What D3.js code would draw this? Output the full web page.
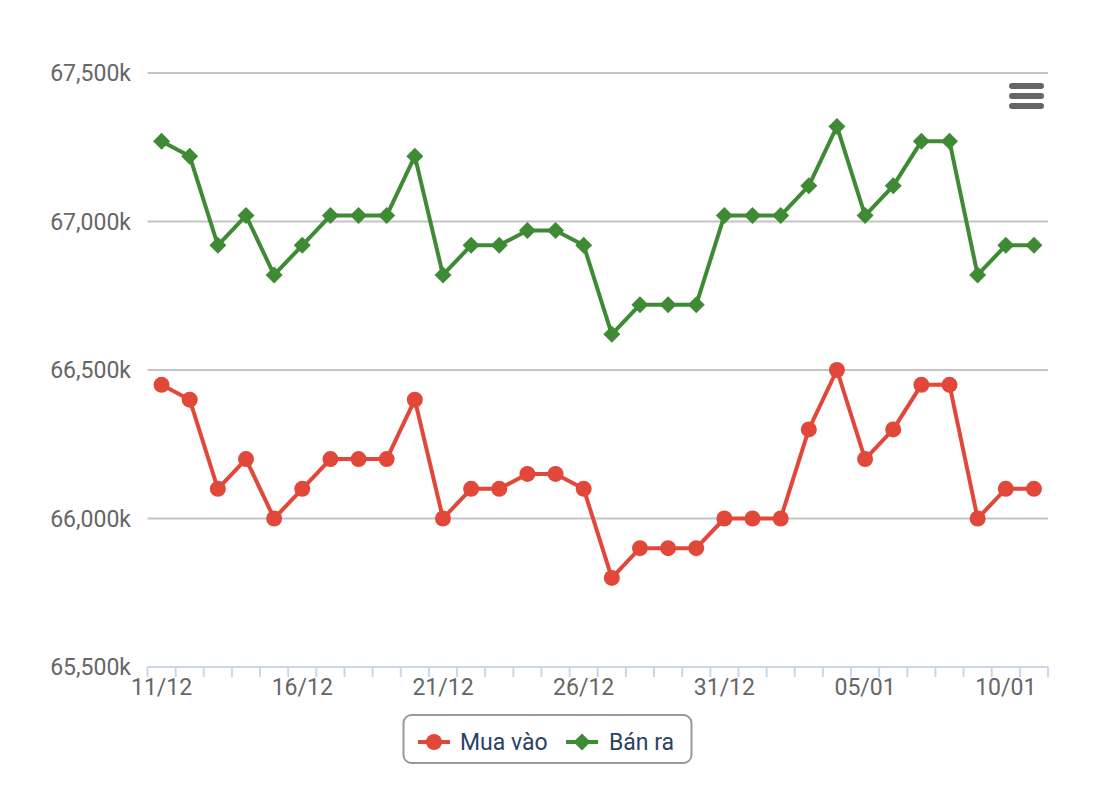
<!DOCTYPE html>
<html>
<head>
<meta charset="utf-8">
<script src="https://cdn.jsdelivr.net/npm/d3@7/dist/d3.min.js"></script>
<style>
  html, body { margin: 0; padding: 0; background: #fff; }
  svg { display: block; font-family: Roboto, "Noto Sans", sans-serif; }
</style>
</head>
<body>
<svg id="chart" width="1100" height="804"></svg>
<script>
const dates = ["11/12","12/12","13/12","14/12","15/12","16/12","17/12","18/12","19/12","20/12",
  "21/12","22/12","23/12","24/12","25/12","26/12","27/12","28/12","29/12","30/12","31/12",
  "01/01","02/01","03/01","04/01","05/01","06/01","07/01","08/01","09/01","10/01","11/01"];
const tickLabels = ["11/12","16/12","21/12","26/12","31/12","05/01","10/01"];
const muaVao = [66450,66400,66100,66200,66000,66100,66200,66200,66200,66400,
  66000,66100,66100,66150,66150,66100,65800,65900,65900,65900,66000,
  66000,66000,66300,66500,66200,66300,66450,66450,66000,66100,66100];
const banRa = [67270,67220,66920,67020,66820,66920,67020,67020,67020,67220,
  66820,66920,66920,66970,66970,66920,66620,66720,66720,66720,67020,
  67020,67020,67120,67320,67020,67120,67270,67270,66820,66920,66920];
const yTicks = [65500,66000,66500,67000,67500];
const seriesNames = ["Mua vào","Bán ra"];
const colors = ["#e2483a","#3f8a34"];

(function () {
const svg = d3.select("#chart");
const pLeft = 147.5, pRight = 1048, pTop = 73, pBottom = 667;

const x = d3.scaleBand().domain(dates).range([pLeft, pRight]);
const cx = d => x(d) + x.bandwidth() / 2;
const y = d3.scaleLinear().domain([65500, 67500]).range([pBottom, pTop]);

// gridlines
svg.append("g").selectAll("line").data(yTicks.slice(1)).join("line")
  .attr("x1", pLeft).attr("x2", pRight)
  .attr("y1", d => y(d)).attr("y2", d => y(d))
  .attr("stroke", "#c4c4c4").attr("stroke-width", 2);

// y labels
const fmt = d3.format(",");
svg.append("g").selectAll("text").data(yTicks).join("text")
  .attr("x", 131).attr("y", d => y(d)).attr("dy", "0.35em")
  .attr("text-anchor", "end").attr("fill", "#666").attr("font-size", 23)
  .text(d => fmt(d) + "k");

// x axis
const xAxis = svg.append("g");
xAxis.append("line").attr("x1", pLeft).attr("x2", pRight).attr("y1", pBottom).attr("y2", pBottom)
  .attr("stroke", "#ccd6eb").attr("stroke-width", 2);
const boundaries = dates.map(d => x(d)).concat([pRight]);
xAxis.selectAll("line.tick").data(boundaries).join("line").attr("class", "tick")
  .attr("x1", d => d).attr("x2", d => d).attr("y1", pBottom).attr("y2", pBottom + 10)
  .attr("stroke", "#ccd6eb").attr("stroke-width", 2);
xAxis.selectAll("text").data(tickLabels).join("text")
  .attr("x", d => cx(d)).attr("y", 695)
  .attr("text-anchor", "middle").attr("fill", "#666").attr("font-size", 23)
  .text(d => d);

// lines
const line = d3.line().x((d, i) => cx(dates[i])).y(d => y(d));
[muaVao, banRa].forEach((s, k) => {
  svg.append("path").datum(s).attr("d", line)
    .attr("fill", "none").attr("stroke", colors[k]).attr("stroke-width", 4)
    .attr("stroke-linejoin", "round").attr("stroke-linecap", "round");
});
svg.append("g").selectAll("circle").data(muaVao).join("circle")
  .attr("cx", (d, i) => cx(dates[i])).attr("cy", d => y(d)).attr("r", 8)
  .attr("fill", colors[0]);
const diamond = (px, py, r) => `M${px},${py - r}L${px + r},${py}L${px},${py + r}L${px - r},${py}Z`;
svg.append("g").selectAll("path").data(banRa).join("path")
  .attr("d", (d, i) => diamond(cx(dates[i]), y(d), 8.5))
  .attr("fill", colors[1]);

// menu icon
svg.append("g").selectAll("line").data([86, 96, 106]).join("line")
  .attr("x1", 1012).attr("x2", 1041).attr("y1", d => d).attr("y2", d => d)
  .attr("stroke", "#666").attr("stroke-width", 6).attr("stroke-linecap", "round");

// legend
const lg = svg.append("g");
lg.append("rect").attr("x", 403.5).attr("y", 715).attr("width", 288).attr("height", 48)
  .attr("rx", 8).attr("fill", "#fff").attr("stroke", "#999").attr("stroke-width", 2);
const items = [{x: 418, tx: 460}, {x: 566, tx: 609}];
items.forEach((it, k) => {
  lg.append("line").attr("x1", it.x).attr("x2", it.x + 32).attr("y1", 742).attr("y2", 742)
    .attr("stroke", colors[k]).attr("stroke-width", 4);
  if (k === 0) lg.append("circle").attr("cx", it.x + 16).attr("cy", 742).attr("r", 8).attr("fill", colors[k]);
  else lg.append("path").attr("d", diamond(it.x + 16, 742, 8.5)).attr("fill", colors[k]);
  lg.append("text").attr("x", it.tx).attr("y", 742).attr("dy", "0.35em")
    .attr("fill", "#2a4365").attr("font-size", 23).text(seriesNames[k]);
});
})();
</script>
</body>
</html>
